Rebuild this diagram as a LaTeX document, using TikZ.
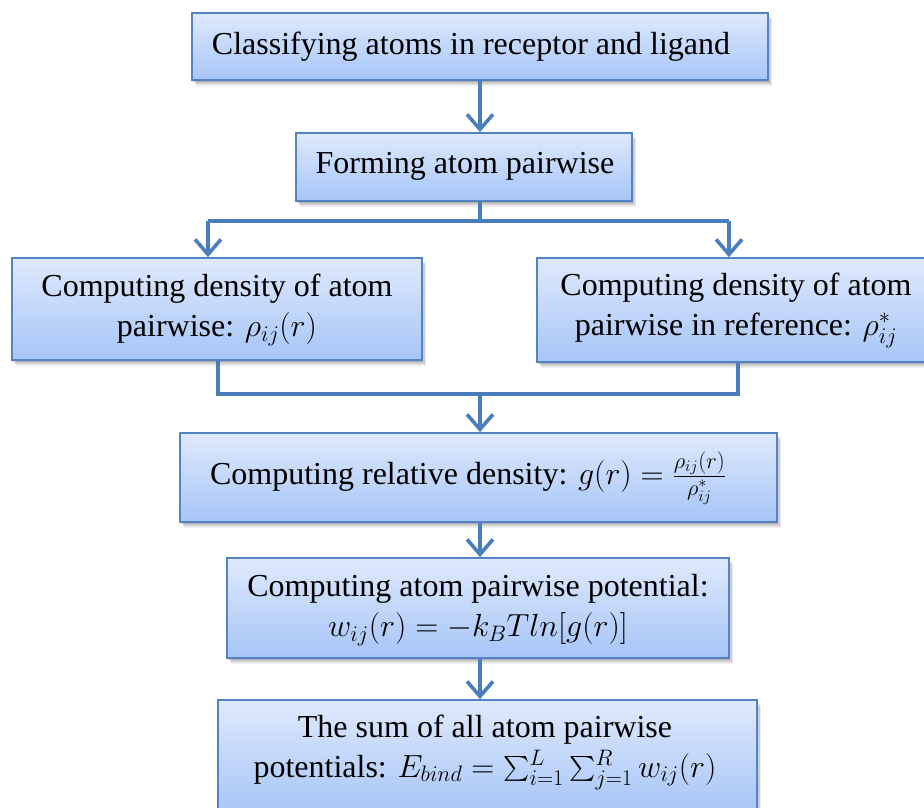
\RequirePackage{fix-cm}
\documentclass[tikz,border=0pt]{standalone}
\usepackage{exscale}
\usepackage{fontspec}
\setmainfont{Liberation Serif}
\usetikzlibrary{arrows.meta,shadows}

\definecolor{boxtop}{RGB}{223,233,252}
\definecolor{boxbot}{RGB}{166,197,247}
\definecolor{boxline}{RGB}{84,131,196}
\definecolor{linec}{RGB}{74,126,187}

\tikzset{
  softshadow/.style={
    drop shadow={shadow xshift=1pt,shadow yshift=-2pt,opacity=0.16,fill=black},
    drop shadow={shadow xshift=2.5pt,shadow yshift=-3.5pt,opacity=0.13,fill=black},
    drop shadow={shadow xshift=4pt,shadow yshift=-5.5pt,opacity=0.08,fill=black}},
  procbox/.style={rectangle, inner sep=0pt, draw=boxline, line width=1.8pt,
    top color=boxtop, bottom color=boxbot, softshadow},
  label text/.style={inner sep=0pt, align=center, font=\fontsize{32}{40}\selectfont},
  flow/.style={draw=linec, line width=3.6pt},
  flowarrow/.style={flow, -{Straight Barb[length=15pt,width=26pt]}}
}

\begin{document}
\begin{tikzpicture}[x=1pt,y=-1pt]
  \useasboundingbox (0,0) rectangle (924,807);

  % process boxes: centre, width, height
  \node[procbox, minimum width=576, minimum height=67] (b1) at (480,46.5) {};
  \node[procbox, minimum width=336, minimum height=68] (b2) at (464,167) {};
  \node[procbox, minimum width=410, minimum height=102] (b3) at (217,309) {};
  \node[procbox, minimum width=392, minimum height=104] (b4) at (733,310) {};
  \node[procbox, minimum width=597, minimum height=89] (b5) at (478.5,477.5) {};
  \node[procbox, minimum width=502, minimum height=100] (b6) at (478,608) {};
  \node[procbox, minimum width=539, minimum height=114] (b7) at (487.5,757) {};

  % texts
  \node[label text] (t1) at (471,47) {Classifying atoms in receptor and ligand};
  \node[label text] (t2) at (465,166) {Forming atom pairwise};
  \node[label text] (t3) at (217,310) {Computing density of atom\\pairwise: $\rho_{ij}(r)$};
  \node[label text] (t4) at (736,310) {Computing density of atom\\pairwise in reference: $\rho^{*}_{ij}$};
  \node[label text] (t5) at (468,478) {Computing relative density: $g(r)=\frac{\rho_{ij}(r)}{\rho^{*}_{ij}}$};
  \node[label text] (t6) at (478,610) {Computing atom pairwise potential:\\$w_{ij}(r)=-k_{B}Tln[g(r)]$};
  \node[label text] (t7) at (485,752) {The sum of all atom pairwise\\potentials: $E_{bind}=\sum_{i=1}^{L}\sum_{j=1}^{R}w_{ij}(r)$};

  % junction points of the connectors
  \coordinate (ax) at (480,0);
  \coordinate (j1) at (480,221);
  \coordinate (jl) at (208,221);
  \coordinate (jr) at (729,221);
  \coordinate (kl) at (218,394);
  \coordinate (kr) at (738,394);
  \coordinate (k1) at (480,394);

  % connectors
  \draw[flowarrow] (ax |- b1.south) -- (ax |- b2.north);
  \draw[flow] (j1 |- b2.south) -- (j1);
  \draw[flow] (jl) -- (jr);
  \draw[flowarrow] (jl) -- (jl |- b3.north);
  \draw[flowarrow] (jr) -- (jr |- b4.north);
  \draw[flow] (kl |- b3.south) -- (kl) -- (kr) -- (kr |- b4.south);
  \draw[flowarrow] (k1) -- (k1 |- b5.north);
  \draw[flowarrow] (ax |- b5.south) -- (ax |- b6.north);
  \draw[flowarrow] (ax |- b6.south) -- (ax |- b7.north);
\end{tikzpicture}
\end{document}
